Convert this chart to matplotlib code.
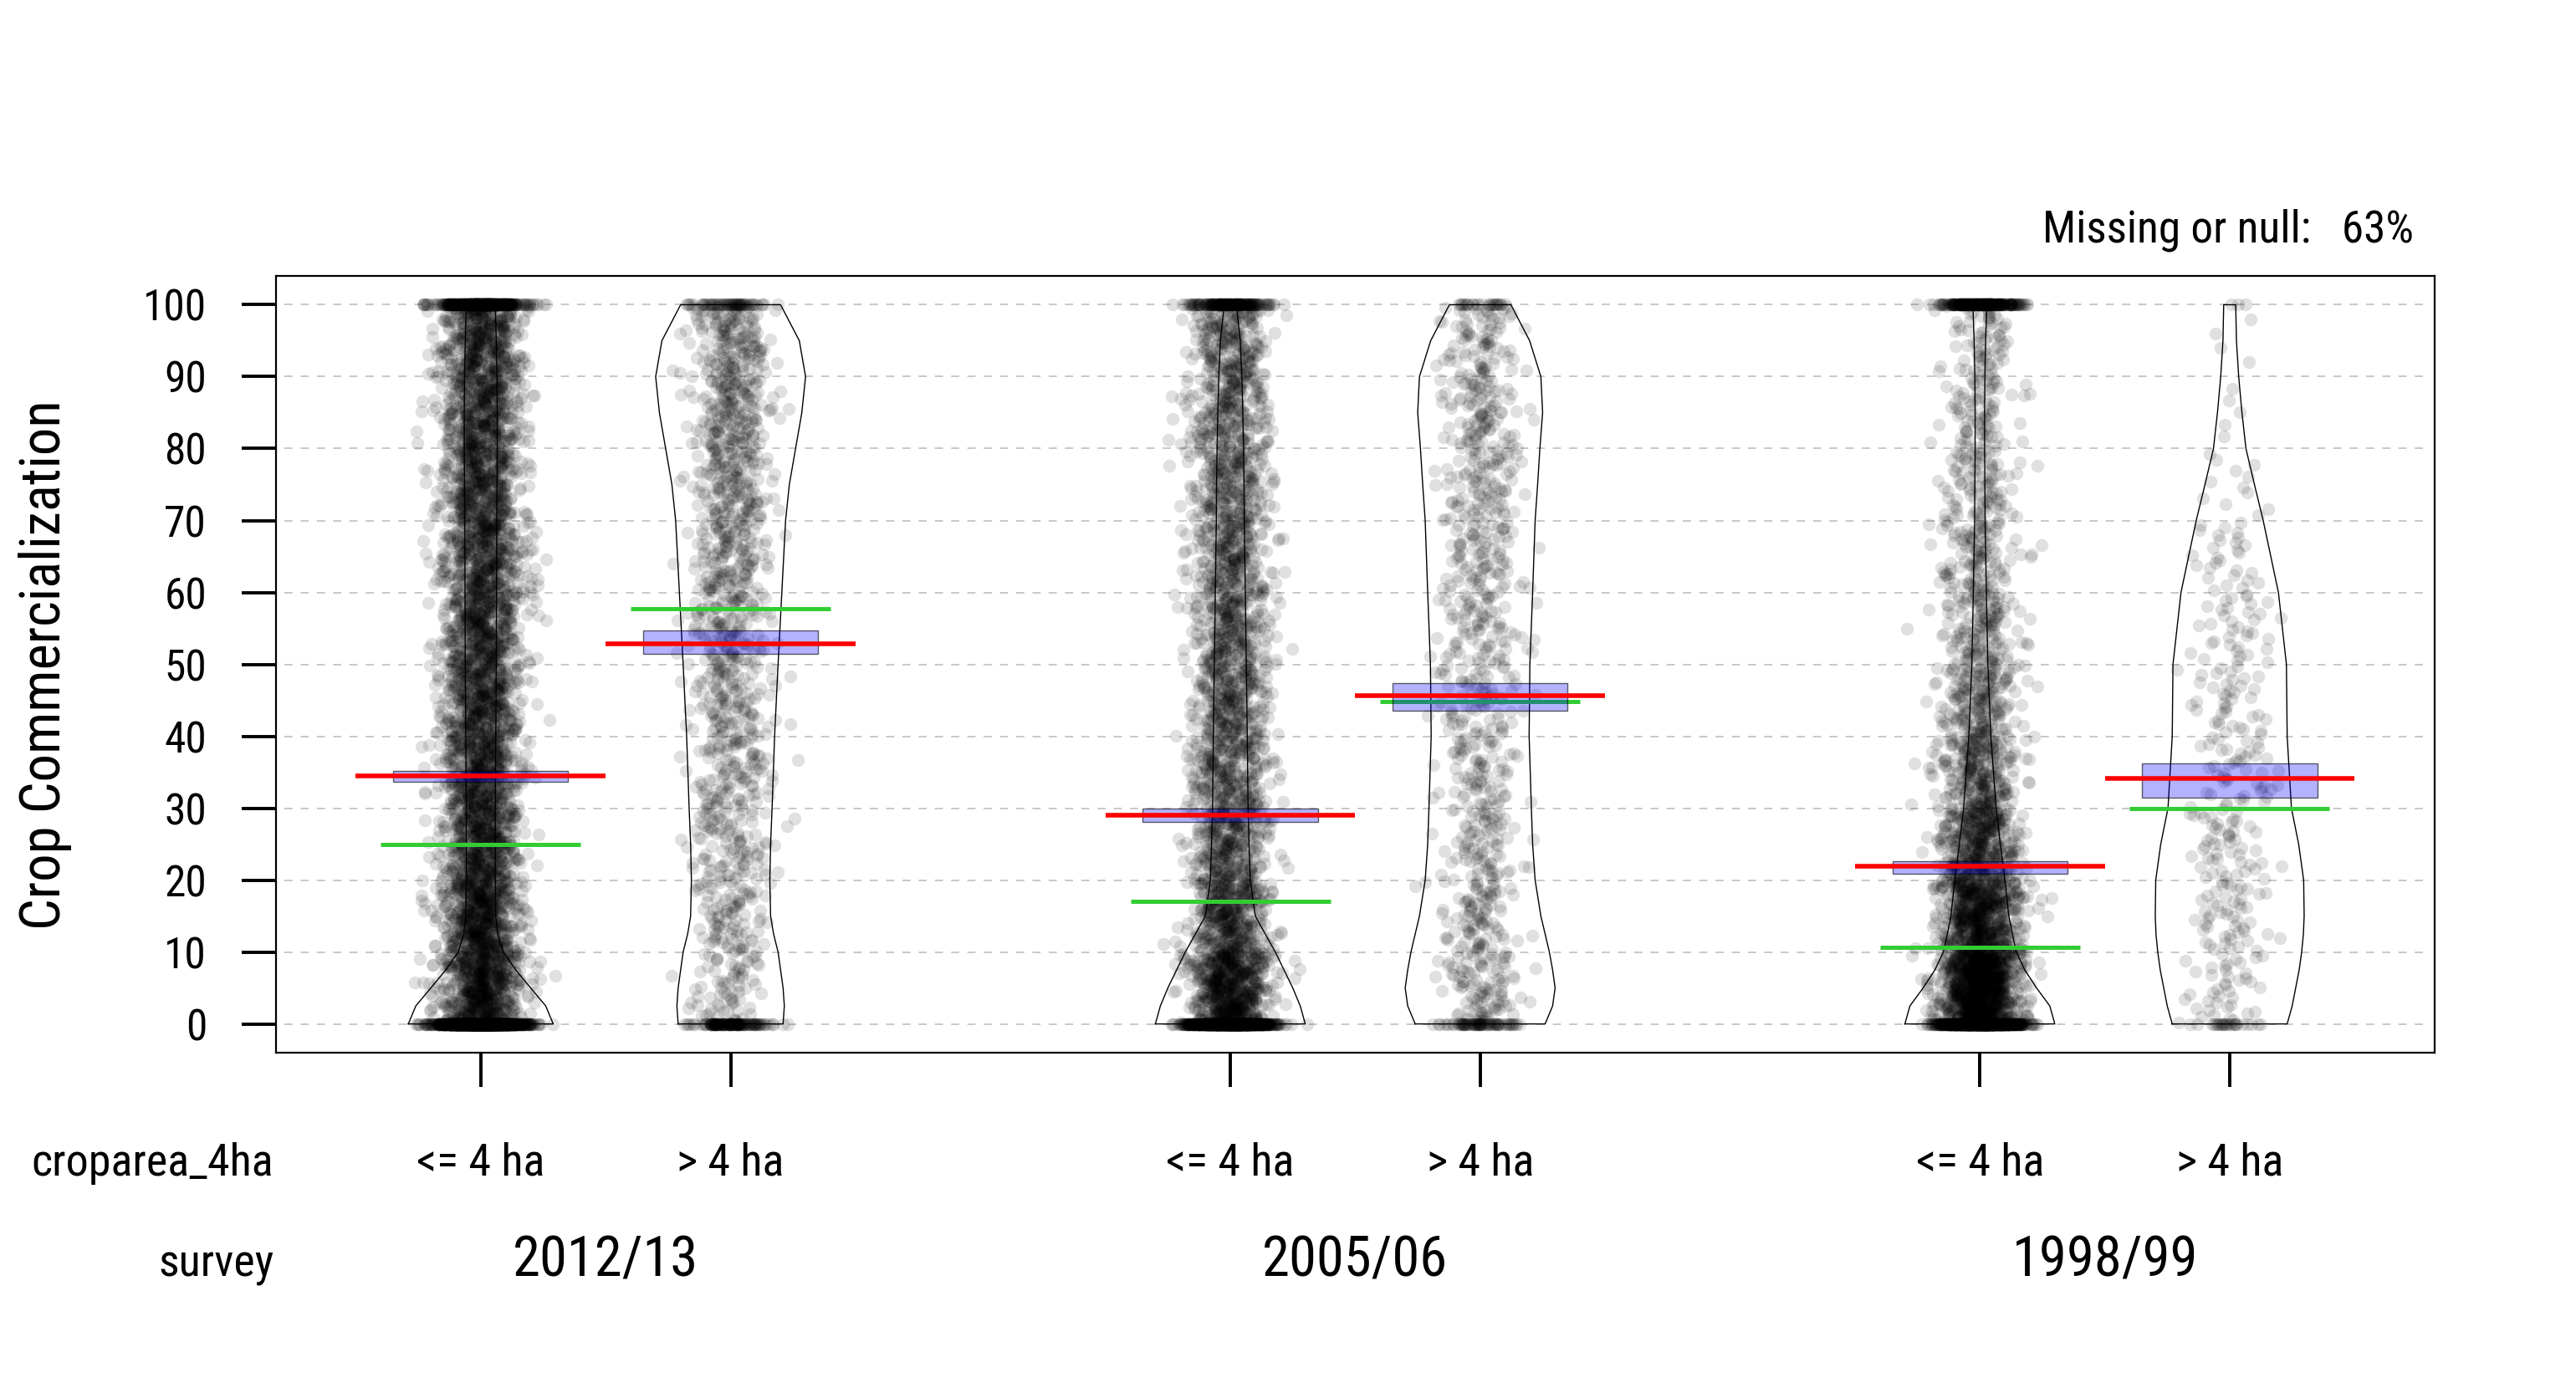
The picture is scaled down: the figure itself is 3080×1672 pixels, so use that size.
import numpy as np
import matplotlib

matplotlib.use("Agg")
import matplotlib.pyplot as plt
from matplotlib import font_manager
from matplotlib.patches import Rectangle
from matplotlib.transforms import blended_transform_factory

# Шрифт: ищем узкий, как в оригинале
available = {f.name for f in font_manager.fontManager.ttflist}
FONT = "DejaVu Sans"
for cand in ["Roboto Condensed", "Liberation Sans Narrow", "Roboto"]:
    if cand in available:
        FONT = cand
        break
plt.rcParams["font.family"] = [FONT, "DejaVu Sans"]

# Данные
surveys = ["2012/13", "2005/06", "1998/99"]
crop_areas = ["<= 4 ha", "> 4 ha"]

# порядок групп: 2012/13 <=4, 2012/13 >4, 2005/06 <=4, ...
mean_vals = [34.5, 52.9, 29.0, 45.6, 21.9, 34.1]
ci_low = [33.7, 51.4, 28.1, 43.6, 20.9, 31.5]
ci_high = [35.2, 54.7, 30.0, 47.4, 22.6, 36.2]
median_vals = [24.9, 57.7, 17.0, 44.8, 10.7, 30.0]

# число наблюдений ровно 0 и ровно 100
n_zero = [1800, 140, 1100, 70, 1000, 25]
n_hundred = [500, 60, 180, 25, 280, 3]
# внутренние значения по корзинам 0-10, 10-20, ..., 90-100
bin_counts = [
    [620, 560, 470, 450, 440, 430, 420, 410, 410, 430],
    [72, 90, 98, 106, 115, 128, 136, 150, 165, 158],
    [620, 380, 290, 270, 260, 250, 240, 230, 220, 220],
    [100, 90, 80, 75, 75, 80, 85, 90, 95, 80],
    [1000, 620, 400, 260, 190, 140, 115, 95, 80, 70],
    [40, 50, 50, 45, 40, 36, 28, 12, 5, 4],
]

# контур «бобов» (полуширина) на уровнях y
bean_y = [0, 2.5, 5, 7.5, 10, 12.5, 15, 20, 25, 30, 40, 50, 60, 70, 75, 80, 85, 90, 95, 100]
bean_halfwidth = [
    [0.29, 0.26, 0.20, 0.14, 0.09, 0.068, 0.06, 0.058, 0.058, 0.058, 0.06, 0.062, 0.063, 0.064, 0.065, 0.066, 0.066, 0.065, 0.062, 0.058],
    [0.21, 0.215, 0.21, 0.20, 0.19, 0.172, 0.16, 0.157, 0.16, 0.166, 0.176, 0.19, 0.205, 0.22, 0.235, 0.26, 0.285, 0.30, 0.275, 0.20],
    [0.30, 0.28, 0.25, 0.215, 0.18, 0.14, 0.10, 0.08, 0.075, 0.071, 0.068, 0.064, 0.06, 0.056, 0.055, 0.053, 0.05, 0.046, 0.04, 0.024],
    [0.26, 0.29, 0.30, 0.29, 0.277, 0.26, 0.243, 0.22, 0.21, 0.205, 0.196, 0.199, 0.21, 0.22, 0.23, 0.239, 0.25, 0.243, 0.198, 0.123],
    [0.30, 0.28, 0.227, 0.18, 0.146, 0.13, 0.116, 0.10, 0.082, 0.065, 0.044, 0.032, 0.026, 0.021, 0.02, 0.019, 0.019, 0.02, 0.023, 0.028],
    [0.23, 0.25, 0.264, 0.278, 0.288, 0.295, 0.298, 0.296, 0.276, 0.247, 0.23, 0.227, 0.195, 0.134, 0.099, 0.065, 0.049, 0.036, 0.027, 0.024],
]

y_ticks = [0, 10, 20, 30, 40, 50, 60, 70, 80, 90, 100]
missing_text = "Missing or null:   63%"

# Позиции групп: по две на опрос, с промежутком
positions = []
for s in range(len(surveys)):
    for c in range(len(crop_areas)):
        positions.append(1 + s * 3 + c)

fig = plt.figure(figsize=(15.4, 8.36), dpi=200)
ax = fig.add_axes([0.1071, 0.2470, 0.8380, 0.5556])
ax.set_xlim(0.18, 8.82)
ax.set_ylim(-4, 104)

# сетка
for yt in y_ticks:
    ax.axhline(yt, xmin=0.004, xmax=0.996, color="#c8c8c8", lw=0.7,
               ls=(0, (5, 5)), zorder=0)

rng = np.random.default_rng(11)
bin_edges = np.arange(0, 100, 10)
yl = np.array(bean_y, dtype=float)

for i, pos in enumerate(positions):
    # точки (джиттер по x)
    parts = [np.zeros(n_zero[i]), np.full(n_hundred[i], 100.0)]
    for lo, cnt in zip(bin_edges, bin_counts[i]):
        parts.append(np.linspace(lo, lo + 10, cnt + 2)[1:-1])
    ys = np.concatenate(parts)
    xs = pos + rng.normal(0, 0.08, ys.size)
    ax.scatter(xs, ys, s=31, c="black", alpha=0.12, linewidths=0, zorder=2)

    # контур
    hw = np.array(bean_halfwidth[i])
    bx = np.r_[pos - hw, (pos + hw)[::-1], pos - hw[0]]
    by = np.r_[yl, yl[::-1], yl[0]]
    ax.plot(bx, by, color="black", lw=0.5, zorder=3)

    # медиана (зелёная), интервал (синий), среднее (красное)
    ax.hlines(median_vals[i], pos - 0.4, pos + 0.4, color="#33CC33", lw=1.8, zorder=4)
    ax.add_patch(Rectangle((pos - 0.35, ci_low[i]), 0.7, ci_high[i] - ci_low[i],
                           facecolor=(0, 0, 1, 0.3), edgecolor=(0, 0, 0, 0.6),
                           lw=0.5, zorder=5))
    ax.hlines(mean_vals[i], pos - 0.5, pos + 0.5, color="red", lw=2.0, zorder=6)

# оси
for sp in ax.spines.values():
    sp.set_linewidth(0.8)
ax.set_yticks(y_ticks)
ax.set_yticklabels([str(v) for v in y_ticks], fontsize=18.5)
ax.set_xticks(positions)
ax.set_xticklabels([])
ax.tick_params(axis="both", length=14.8, width=1.4, direction="out")
ax.tick_params(axis="y", pad=15)

# подписи групп
trans = blended_transform_factory(ax.transData, ax.transAxes)
for i, pos in enumerate(positions):
    ax.text(pos, -0.1582, crop_areas[i % 2], transform=trans, ha="center",
            va="baseline", fontsize=19.5)
for s, name in enumerate(surveys):
    center = (positions[2 * s] + positions[2 * s + 1]) / 2
    ax.text(center, -0.2874, name, transform=trans, ha="center",
            va="baseline", fontsize=24)
ax.text(-0.001, -0.1582, "croparea_4ha", transform=ax.transAxes, ha="right",
        va="baseline", fontsize=19.5)
ax.text(-0.001, -0.2874, "survey", transform=ax.transAxes, ha="right",
        va="baseline", fontsize=19.5)

ax.text(0.9903, 1.044, missing_text, transform=ax.transAxes, ha="right",
        va="baseline", fontsize=19.2)

fig.text(0.0175, 0.5245, "Crop Commercialization", rotation=90, ha="center",
         va="center", fontsize=24)

fig.savefig("out.png", dpi=200)
